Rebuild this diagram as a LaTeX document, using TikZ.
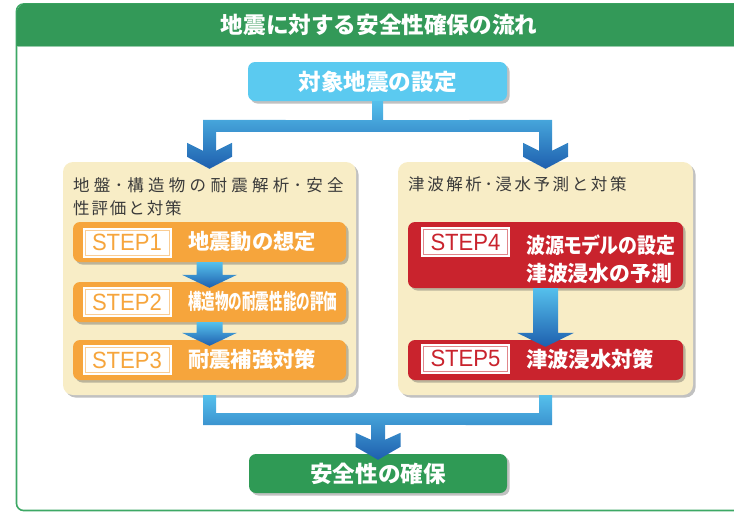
\documentclass[tikz,border=0pt]{standalone}
\usepackage{fontspec}
\usepackage{graphicx}
\newfontfamily\jp{Noto Sans CJK JP}
\newfontfamily\jpp{Noto Sans CJK JP}[RawFeature=+palt]
\newfontfamily\lat{Liberation Sans}
\usetikzlibrary{calc,shadows}
\definecolor{hdrgreen}{HTML}{339958}
\definecolor{framegreen}{HTML}{3DA865}
\definecolor{topblue}{HTML}{5BCAF0}
\definecolor{cream}{HTML}{F8EDC6}
\definecolor{stepor}{HTML}{F6A53C}
\definecolor{stepred}{HTML}{C9232D}
\definecolor{botgreen}{HTML}{2F9A55}
\definecolor{blight}{HTML}{55C0EC}
\definecolor{bdark}{HTML}{1E5FAE}
\definecolor{txtgray}{HTML}{3A3A3A}
\newcommand\spcd[2]{\def\cdk{#1}\spcdi#2\relax}
\def\spcdi#1{\ifx\relax#1\else#1\kern\cdk\expandafter\spcdi\fi}
\newcommand\fitw[2]{\resizebox{#1}{\height}{#2}}
\begin{document}
\begin{tikzpicture}[x=1pt,y=-1pt,
  shadowed/.style={drop shadow={shadow xshift=2.5pt,shadow yshift=-2.5pt,opacity=0.35,fill=black!70}},
  box/.style={rectangle,rounded corners=7pt,inner sep=0pt,shadowed},
  panel/.style={box,fill=cream,rounded corners=10pt,minimum height=233pt},
  stepbox/.style={box,minimum width=#1,minimum height=40pt},
  bigtxt/.style={inner sep=0pt,text=white,font=\jp\bfseries\fontsize{22.6}{24}\selectfont},
  steptxt/.style={inner sep=0pt,text=white,anchor=west,align=left,font=\jp\bfseries\fontsize{21.3}{28}\selectfont},
  ptitle/.style={inner sep=0pt,anchor=west,text=txtgray,font=\jp\fontsize{16.5}{20}\selectfont},
  steplabel/.style={rectangle,fill=white,draw=#1!55,line width=0.9pt,
    preaction={draw=white,line width=5pt},minimum width=84pt,minimum height=25pt,
    inner sep=0pt,text=#1,font=\lat\fontsize{23.5}{23.5}\selectfont},
  conn/.style={top color=blight,bottom color=bdark}]
\useasboundingbox (0,0) rectangle (734,512);
% frame and header
\begin{scope}
\clip (0,0) rectangle (734,512);
\draw[framegreen,line width=1.6pt,rounded corners=7pt] (16.5,4) rectangle (770,510.5);
\fill[hdrgreen] (16.5,46) [rounded corners=10pt] -- (16.5,3.5) -- (770,3.5) [sharp corners] -- (770,46) -- cycle;
\draw[hdrgreen!50!white,line width=0.8pt] (17.3,46.6) -- (734,46.6);
\end{scope}
\node[bigtxt] (title) at (379,25) {地震に対する安全性確保の流れ};
% top box
\node[box,fill=topblue,minimum width=259pt,minimum height=39pt] (top) at (377.5,81.5) {};
\node[bigtxt] (toptxt) at (top.center) {対象地震の設定};
% panels
\node[panel,minimum width=293pt] (lp) at (209.5,278.5) {};
\node[panel,minimum width=295pt] (rp) at (545.5,278.5) {};
\node[ptitle] (lpt1) at (73,185) {\spcd{4.3pt}{地盤･構造物の耐震解析･安全}};
\node[ptitle] (lpt2) at (73,208) {\spcd{1.9pt}{性評価と対策}};
\node[ptitle] (rpt) at (408,184) {\spcd{2.6pt}{津波解析･浸水予測と対策}};
% step boxes
\node[stepbox=273pt,fill=stepor] (s1) at (209.5,242) {};
\node[stepbox=273pt,fill=stepor] (s2) at (209.5,302) {};
\node[stepbox=273pt,fill=stepor] (s3) at (209.5,360) {};
\node[stepbox=275pt,fill=stepred,minimum height=66pt] (s4) at (545.5,255) {};
\node[stepbox=275pt,fill=stepred] (s5) at (545.5,360) {};
% step labels
\node[steplabel=stepor] (l1) at (127,242.5) {\fitw{70pt}{STEP1}};
\node[steplabel=stepor] (l2) at (127,302) {\fitw{70pt}{STEP2}};
\node[steplabel=stepor] (l3) at (127,360) {\fitw{70pt}{STEP3}};
\node[steplabel=stepred] (l4) at (465.5,242) {\fitw{70pt}{STEP4}};
\node[steplabel=stepred] (l5) at (465.5,358.5) {\fitw{70pt}{STEP5}};
% step texts
\node[steptxt] (t1) at (188,241.5) {地震動の想定};
\node[steptxt] (t2) at (188,301.5) {\fitw{149pt}{構造物の耐震性能の評価}};
\node[steptxt] (t3) at (188,359.5) {耐震補強対策};
\node[steptxt] (t4) at (526,259) {{\jpp\fitw{149pt}{波源モデルの設定}}\\\fitw{146pt}{津波浸水の予測}};
\node[steptxt] (t5) at (526,359.5) {津波浸水対策};
% bottom box
\node[box,fill=botgreen,minimum width=258pt,minimum height=39pt] (bot) at (378,473.5) {};
\node[bigtxt] (bottxt) at (bot.center) {安全性の確保};
% top connector
\coordinate (t0) at (top.south);
\coordinate (l0) at ($(lp.north)+(0,7)$);
\coordinate (r0) at ($(rp.north)+(0,7)$);
\shade[conn] ($(t0)+(-5.5,0)$) -- ($(t0)+(-5.5,19)$) -- ($(l0)+(-6.5,-49)$)
  -- ($(l0)+(-6.5,-18)$) -- ($(l0)+(-22.5,-26)$) -- ($(l0)+(-22.5,-12)$) -- (l0)
  -- ($(l0)+(22.5,-12)$) -- ($(l0)+(22.5,-26)$) -- ($(l0)+(6.5,-18)$) -- ($(l0)+(6.5,-37)$)
  -- ($(r0)+(-6.5,-37)$) -- ($(r0)+(-6.5,-18)$) -- ($(r0)+(-22.5,-26)$) -- ($(r0)+(-22.5,-12)$)
  -- (r0) -- ($(r0)+(22.5,-12)$) -- ($(r0)+(22.5,-26)$) -- ($(r0)+(6.5,-18)$)
  -- ($(r0)+(6.5,-49)$) -- ($(t0)+(5.5,19)$) -- ($(t0)+(5.5,0)$) -- cycle;
% step arrows
\coordinate (a12) at ($(s2.north)+(0,6)$);
\shade[conn] ($(s1.south)+(-13,0)$) -- ($(a12)+(-13,-13)$) -- ($(a12)+(-27.5,-13)$) -- (a12)
  -- ($(a12)+(27.5,-13)$) -- ($(a12)+(13,-13)$) -- ($(s1.south)+(13,0)$) -- cycle;
\coordinate (a23) at ($(s3.north)+(0,6)$);
\shade[conn] ($(s2.south)+(-13,0)$) -- ($(a23)+(-13,-13)$) -- ($(a23)+(-27.5,-13)$) -- (a23)
  -- ($(a23)+(27.5,-13)$) -- ($(a23)+(13,-13)$) -- ($(s2.south)+(13,0)$) -- cycle;
\coordinate (a45) at ($(s5.north)+(0,7)$);
\shade[conn] ($(s4.south)+(-12.5,0)$) -- ($(a45)+(-12.5,-14)$) -- ($(a45)+(-28.5,-14)$) -- (a45)
  -- ($(a45)+(28.5,-14)$) -- ($(a45)+(12.5,-14)$) -- ($(s4.south)+(12.5,0)$) -- cycle;
% bottom connector
\coordinate (b0) at ($(bot.north)+(0,6)$);
\shade[conn] ($(lp.south)+(-6.5,0)$) -- ($(lp.south)+(-6.5,30)$) -- ($(b0)+(-7,-35)$)
  -- ($(b0)+(-7,-20)$) -- ($(b0)+(-22.5,-27)$) -- ($(b0)+(-22.5,-13)$) -- (b0)
  -- ($(b0)+(22.5,-13)$) -- ($(b0)+(22.5,-27)$) -- ($(b0)+(7,-20)$) -- ($(b0)+(7,-35)$)
  -- ($(rp.south)+(6.5,30)$) -- ($(rp.south)+(6.5,0)$) -- ($(rp.south)+(-6.5,0)$)
  -- ($(rp.south)+(-6.5,18)$) -- ($(lp.south)+(6.5,18)$) -- ($(lp.south)+(6.5,0)$) -- cycle;
\end{tikzpicture}
\end{document}
